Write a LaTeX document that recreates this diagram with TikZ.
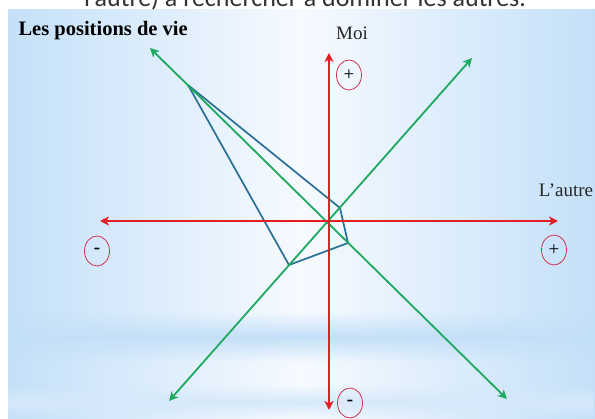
\documentclass[tikz,border=0pt]{standalone}
\usepackage{fontspec}
\setmainfont{Liberation Serif}
\newfontfamily\slidefont{Carlito}
\usetikzlibrary{positioning, arrows.meta, shapes.geometric, fadings}

\definecolor{axisred}{RGB}{228,30,38}
\definecolor{diaggreen}{RGB}{30,168,96}
\definecolor{profileblue}{RGB}{42,112,150}
\definecolor{signred}{RGB}{210,50,80}
\definecolor{slideblue}{RGB}{196,224,248}
\definecolor{slidelight}{RGB}{246,250,255}

\tikzfading[name=bandfade, top color=transparent!100, bottom color=transparent!100,
    middle color=transparent!0]

\begin{document}
\begin{tikzpicture}[
    x=1pt, y=-1pt,
    >={Stealth[length=9pt, width=9pt, inset=2.5pt]},
    axis/.style={<->, draw=axisred, line width=2pt},
    diag/.style={<->, draw=diaggreen, line width=1.8pt},
    profile/.style={draw=profileblue, line width=1.7pt, line join=round},
    sign/.style={ellipse, draw=signred, line width=0.8pt, minimum width=25pt,
        minimum height=30pt, inner sep=0pt, font=\fontsize{19}{19}\selectfont},
    axislabel/.style={font=\fontsize{19}{21}\selectfont, text=black!85}
  ]
    \clip (0,0) rectangle (595,419);
    % slide background
    \fill[white] (0,0) rectangle (595,419);
    \shade[left color=slideblue, right color=slideblue, middle color=slidelight]
        (8,10) rectangle (595,419);
    \fill[slideblue, path fading=bandfade] (8,312) rectangle (595,362);
    \fill[slideblue!70, path fading=bandfade] (8,385) rectangle (595,419);
    % cut-off line of the slide above
    \node[font=\slidefont\fontsize{26}{28}\selectfont, text=black!80, anchor=base]
        (heading) at (305,7) {l’autre) à rechercher à dominer les autres.};
    \node[font=\bfseries\fontsize{20.5}{22}\selectfont, anchor=west] (title) at (15,31)
        {Les positions de vie};
    % axes ends
    \coordinate (O) at (329,221);
    \coordinate (west) at (100,221);
    \coordinate (east) at (558,221);
    \coordinate (north) at (329,53);
    \coordinate (south) at (329,410);
    \coordinate (nw) at (150,48);
    \coordinate (se) at (507,399);
    \coordinate (ne) at (472,58);
    \coordinate (sw) at (169,401);
    % profile
    \coordinate (p1) at (188,85);
    \coordinate (p2) at (340,208);
    \coordinate (p3) at (348,243);
    \coordinate (p4) at (289,265);
    \draw[profile] (p1) -- (p2) -- (p3) -- (p4) -- cycle;
    \draw[diag] (nw) -- (se);
    \draw[diag] (sw) -- (ne);
    \draw[axis] (west) -- (east);
    \draw[axis] (south) -- (north);
    \node[axislabel] (moi) at (352,33) {Moi};
    \node[axislabel] (autre) at (566,190) {L’autre};
    \node[sign] (moiplus) at (349,75) {+};
    \node[sign] (autreplus) at (554,250) {+};
    \node[sign] (autreminus) at (97,251) {\textbf{-}};
    \node[sign] (moiminus) at (350,403) {\textbf{-}};
  \end{tikzpicture}
\end{document}
